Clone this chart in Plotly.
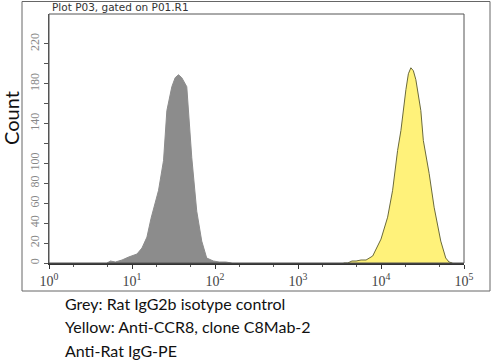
import plotly.graph_objects as go

# Grey: isotype control histogram (log10 intensity, count)
grey_log = [0.70, 0.74, 0.80, 0.88, 0.96, 1.02, 1.06, 1.12, 1.18, 1.23, 1.28, 1.32, 1.38, 1.42, 1.48, 1.52,
            1.56, 1.60, 1.66, 1.68, 1.72, 1.78, 1.84, 1.90, 1.98, 2.05, 2.13, 2.20]
grey_cnt = [0, 2, 1, 3, 6, 8, 9, 15, 26, 45, 62, 73, 103, 153, 177, 186,
            189, 186, 177, 153, 106, 52, 22, 5, 2, 1, 1, 0]

# Yellow: Anti-CCR8 histogram
yel_log = [3.55, 3.60, 3.65, 3.70, 3.76, 3.82, 3.90, 4.00, 4.08, 4.14, 4.20, 4.24, 4.30, 4.33, 4.36,
           4.39, 4.42, 4.48, 4.51, 4.54, 4.58, 4.64, 4.72, 4.78, 4.82, 4.86]
yel_cnt = [0, 0, 2, 2, 3, 3, 7, 24, 46, 73, 113, 133, 174, 190, 196,
           193, 184, 153, 123, 110, 90, 56, 22, 5, 1, 0]

x_tick_vals = [1, 10, 100, 1000, 10000, 100000]
x_tick_text = ["10<sup>0</sup>", "10<sup>1</sup>", "10<sup>2</sup>", "10<sup>3</sup>", "10<sup>4</sup>", "10<sup>5</sup>"]
y_tick_vals = [0, 20, 40, 60, 80, 100, 120, 140, 160, 180, 200, 220]
y_tick_text = ["0", "20", "40", "60", "80", "100", "", "140", "", "180", "", "220"]

caption = ["Grey: Rat IgG2b isotype control", "Yellow: Anti-CCR8, clone C8Mab-2", "Anti-Rat IgG-PE"]

fig = go.Figure()
fig.add_trace(go.Scatter(x=[10 ** v for v in grey_log], y=grey_cnt, mode="lines",
                         fill="tozeroy", fillcolor="#8c8c8c",
                         line=dict(color="#8c8c8c", width=1), hoverinfo="skip"))
fig.add_trace(go.Scatter(x=[10 ** v for v in yel_log], y=yel_cnt, mode="lines",
                         fill="tozeroy", fillcolor="#fff27a",
                         line=dict(color="#6a6a3c", width=1), hoverinfo="skip"))

W, H = 492, 360
L, R, T, B = 49, 28, 14, 97
pw, ph = W - L - R, H - T - B

def px(x):
    return (x - L) / pw

def py(y):
    return (H - B - y) / ph

fig.update_layout(
    width=W, height=H,
    margin=dict(l=L, r=R, t=T, b=B),
    paper_bgcolor="white", plot_bgcolor="white",
    showlegend=False,
    xaxis=dict(type="log", range=[0, 5], tickvals=x_tick_vals, ticktext=x_tick_text,
               ticks="outside", ticklen=4, tickcolor="#333",
               tickfont=dict(family="Liberation Serif", size=14, color="#444"),
               showgrid=False, zeroline=False,
               showline=True, linecolor="#333", linewidth=2, mirror=False,
               minor=dict(ticks="outside", ticklen=2, tickcolor="#555", showgrid=False)),
    yaxis=dict(range=[0, 250], tickvals=y_tick_vals, ticktext=y_tick_text,
               ticks="outside", ticklen=4, tickcolor="#555", tickangle=-90,
               tickfont=dict(family="Liberation Serif", size=12, color="#888"),
               showgrid=False, zeroline=False,
               showline=True, linecolor="#555", linewidth=1),
)

# inner frame (top and right) and outer box
fig.add_shape(type="rect", xref="paper", yref="paper", x0=0, x1=1, y0=0, y1=1,
              line=dict(color="#555", width=1))
fig.add_shape(type="rect", xref="paper", yref="paper",
              x0=px(22), x1=px(490), y0=py(291), y1=py(1.5),
              line=dict(color="#666", width=1))

fig.add_annotation(text="Plot P03, gated on P01.R1", xref="paper", yref="paper",
                   x=px(50), y=py(7), xanchor="left", yanchor="middle", showarrow=False,
                   font=dict(family="DejaVu Sans", size=10.5, color="#333"))
fig.add_annotation(text="Count", xref="paper", yref="paper", x=px(11), y=py(118),
                   textangle=-90, xanchor="center", yanchor="middle", showarrow=False,
                   font=dict(family="Lato", size=20, color="#111"))
for i, line in enumerate(caption):
    fig.add_annotation(text=line, xref="paper", yref="paper", x=px(63), y=py(303 + 23.5 * i),
                       xanchor="left", yanchor="middle", showarrow=False,
                       font=dict(family="Lato", size=16, color="#111"))

fig.write_html("out.html")
